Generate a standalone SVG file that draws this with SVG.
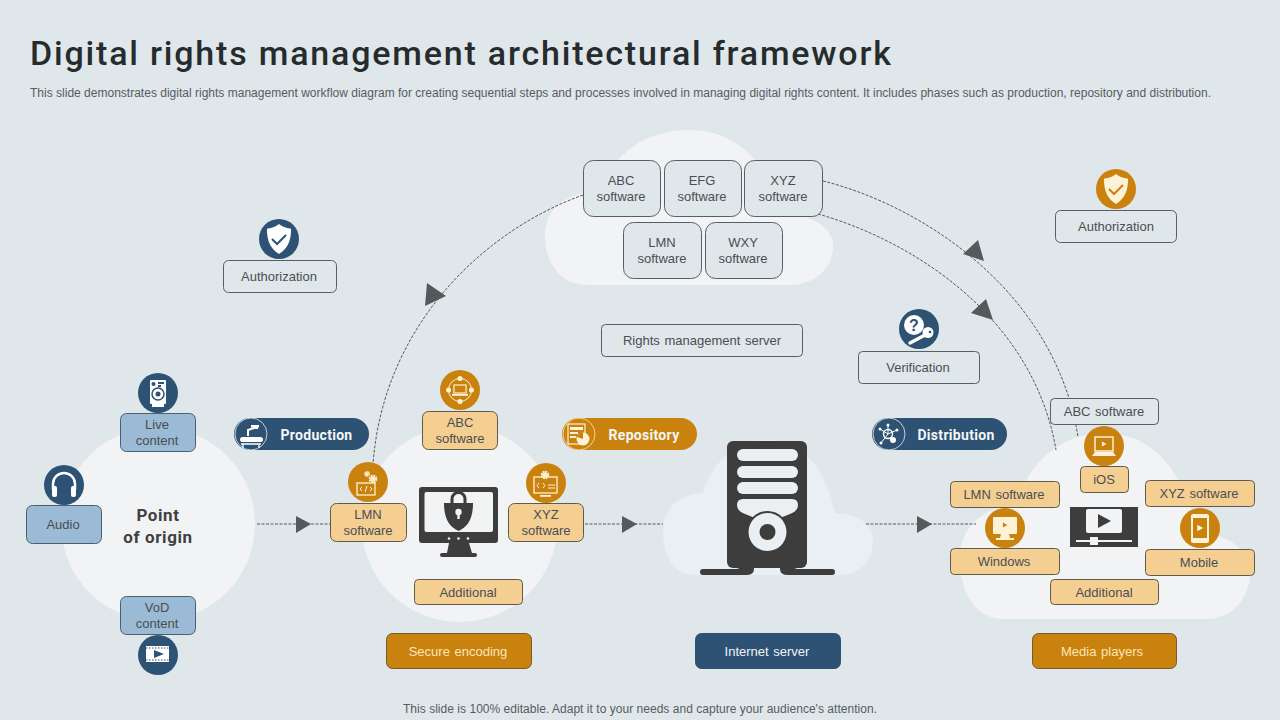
<svg xmlns="http://www.w3.org/2000/svg" width="1280" height="720" viewBox="0 0 1280 720">
<style>
text{font-family:"Liberation Sans",Arial,sans-serif;fill:#4a4e52;font-size:13px;text-anchor:middle;word-spacing:1px}
.blue{fill:#9bbad6;stroke:#4d5e6e;stroke-width:1}
.tan{fill:#f5cf92;stroke:#5f5a4e;stroke-width:1}
.plain{fill:#dfe7ea;stroke:#565f66;stroke-width:1}
.org{fill:#ca820e;stroke:#77592a;stroke-width:1}
.nav{fill:#2d5273;stroke:#2d5273;stroke-width:1}
.n{fill:#2d5273}
.o{fill:#ca820e}
.pill{font-family:Roboto,"Liberation Sans",sans-serif;font-weight:700;font-size:14px;fill:#f4f6f7;letter-spacing:.3px}
.big{font-family:Roboto,"Liberation Sans",sans-serif;font-weight:700;font-size:17px;fill:#404040;letter-spacing:.6px;word-spacing:0}
.cream{fill:#fbe6b8}
.w{fill:#fff}
.fc{fill:#fdf1d6}
.dash{fill:none;stroke:#55595c;stroke-width:1;stroke-dasharray:3 1.500}
.tri{fill:#55595c}
.dk{fill:#3d3d3d}
</style>
<defs>
<path id="cloud" d="M15 100C5 100 0 85 0 68C0 50 8 40 19 39C24 15 35 0 50 0C68 0 78 25 82 54C92 54 100 62 100 75C100 90 93 100 85 100Z"/>
<path id="shield" d="M0-13C4-10 8-9 10.500-9C10.500 1 8 8 0 13C-8 8-10.500 1-10.500-9C-8-9-4-10 0-13Z"/>
<path id="playtri" d="M-3-3.500L3.500 0L-3 3.500Z"/>
<g id="gear"><circle r="3.200" fill="none" stroke-width="2.200" stroke-dasharray="1.800 .7"/><circle r="2"/></g>
</defs>
<rect width="1280" height="720" fill="#dfe7ea"/>

<g id="title">
<text x="30" y="65" textLength="861" lengthAdjust="spacing" style="font-family:Roboto,'Liberation Sans',sans-serif;font-weight:500;font-size:34px;fill:#262b2e;text-anchor:start;word-spacing:0">Digital rights management architectural framework</text>
<text x="30" y="97" textLength="1181" lengthAdjust="spacing" style="font-size:12px;fill:#565c60;text-anchor:start;word-spacing:0">This slide demonstrates digital rights management workflow diagram for creating sequential steps and processes involved in managing digital rights content. It includes phases such as production, repository and distribution.</text>
<text x="640" y="713" textLength="474" lengthAdjust="spacing" style="font-size:12px;fill:#565c60;word-spacing:0">This slide is 100% editable. Adapt it to your needs and capture your audience's attention.</text>
</g>

<g id="clouds">
<circle cx="158" cy="524" r="97" fill="#f2f3f4"/>
<circle cx="459.500" cy="524" r="98" fill="#f2f3f4"/>
<use href="#cloud" transform="translate(545 130) scale(2.880 1.550)" fill="#f2f3f4"/>
<use href="#cloud" transform="translate(663 440) scale(2.100 1.350)" fill="#e9eff2"/>
<use href="#cloud" transform="translate(960 433) scale(2.900 1.860)" fill="#f2f3f4"/>
</g>

<g id="connectors">
<path class="dash" d="M257 524H330M585 524H663M866 524H976"/>
<polygon class="tri" points="296,516 311,524 296,533"/>
<polygon class="tri" points="622,516 637,524 622,533"/>
<polygon class="tri" points="917,516 932,524 917,533"/>
<path class="dash" d="M583 195C490 228 384 320 373 464"/>
<polygon class="tri" points="427,283 446,296 425,306"/>
<path class="dash" d="M823 181C920 205 1055 290 1078 437"/>
<polygon class="tri" points="978,240 963,254 984,261"/>
<path class="dash" d="M818 214C910 240 1033 315 1056 450"/>
<polygon class="tri" points="986,299 971,313 993,320"/>
</g>

<g id="point-of-origin"><text class="big" x="158" y="521">Point</text><text class="big" x="158" y="543">of origin</text></g>

<g id="live-content">
<rect class="blue" x="120.500" y="413.500" width="75" height="38" rx="6"/>
<text x="157" y="429">Live</text><text x="157" y="445">content</text>
<circle class="n" cx="158" cy="393" r="20"/>
<rect class="w" x="150" y="380" width="16" height="24" rx="1"/><rect class="w" x="152" y="404" width="12" height="3"/>
<circle cx="158" cy="394" r="6" fill="none" stroke="#2d5273" stroke-width="1.500"/><circle class="n" cx="158" cy="394" r="2.500"/>
<circle cx="153.500" cy="384" r="2" class="n"/><rect class="n" x="158" y="382" width="6" height="2"/><rect class="n" x="158" y="385" width="3" height="2"/>
</g>
<g id="audio">
<rect class="blue" x="26.500" y="505.500" width="75" height="38" rx="6"/>
<text x="63" y="529">Audio</text>
<circle class="n" cx="64" cy="485" r="20"/>
<path d="M53 490V484A11 11 0 0 1 75 484V490" fill="none" stroke="#fff" stroke-width="2.500"/>
<rect class="w" x="52" y="486" width="5" height="11" rx="2"/><rect class="w" x="71" y="486" width="5" height="11" rx="2"/>
</g>
<g id="vod-content">
<rect class="blue" x="120.500" y="596.500" width="75" height="38" rx="6"/>
<text x="157" y="612">VoD</text><text x="157" y="628">content</text>
<circle class="n" cx="158" cy="655" r="20"/>
<rect class="w" x="146" y="646" width="23" height="16"/>
<path d="M146 648H169M146 660H169" stroke="#2d5273" stroke-width="1.200" stroke-dasharray="1.500 1.500"/>
<path class="n" d="M154 650L164 654L154 658Z"/>
</g>

<g id="production">
<rect class="n" x="234" y="418" width="135" height="32" rx="16"/>
<circle class="n" cx="251" cy="434" r="16" stroke="#e8eef2" stroke-width=".8"/>
<text class="pill" x="316.500" y="440">Production</text>
<rect class="w" x="240" y="437" width="23" height="5" rx="2.500"/>
<path d="M243 444V448M259 444V448M241 444H261" stroke="#fff" stroke-width="1.300"/>
<path d="M248 436V430L254 428H258" fill="none" stroke="#fff" stroke-width="2"/>
<rect class="w" x="251" y="425" width="8" height="2.500"/>
</g>
<g id="lmn-software-1">
<rect class="tan" x="330.500" y="503.500" width="76" height="38" rx="6"/>
<text x="368" y="519">LMN</text><text x="368" y="535">software</text>
<circle class="o" cx="368" cy="482" r="20"/>
<rect x="357" y="483" width="18" height="12" fill="none" stroke="#fdf1d6" stroke-width="1.300"/>
<path d="M362 487L360 489L362 491M370 487L372 489L370 491M367 486L365 492" fill="none" stroke="#fdf1d6" stroke-width="1"/>
<use href="#gear" transform="translate(373 479)" fill="#fdf1d6" stroke="#fdf1d6"/>
<use href="#gear" transform="translate(367 474) scale(.7)" fill="#fdf1d6" stroke="#fdf1d6"/>
</g>
<g id="abc-software-1">
<rect class="tan" x="422.500" y="411.500" width="75" height="38" rx="6"/>
<text x="460" y="427">ABC</text><text x="460" y="443">software</text>
<circle class="o" cx="460" cy="390" r="20"/>
<circle cx="460" cy="390" r="11.500" fill="none" stroke="#fdf1d6" stroke-width="1"/>
<rect x="454" y="385" width="12" height="8" fill="#ca820e" stroke="#fdf1d6" stroke-width="1.200"/><rect class="fc" x="452" y="394" width="16" height="1.800"/>
<circle class="fc" cx="460" cy="378.500" r="2.500"/><circle class="fc" cx="460" cy="401.500" r="2.500"/><circle class="fc" cx="448.500" cy="390" r="2.500"/><circle class="fc" cx="471.500" cy="390" r="2.500"/>
</g>
<g id="xyz-software-1">
<rect class="tan" x="508.500" y="503.500" width="75" height="38" rx="6"/>
<text x="546" y="519">XYZ</text><text x="546" y="535">software</text>
<circle class="o" cx="546" cy="483" r="20"/>
<rect x="534" y="477" width="23" height="16" fill="none" stroke="#fdf1d6" stroke-width="1.300"/><rect class="fc" x="540" y="495" width="11" height="1.800"/>
<use href="#gear" transform="translate(545 475)" fill="#fdf1d6" stroke="#fdf1d6"/>
<path d="M539 483L537 485.500L539 488M543 483L545 485.500L543 488M548 485H555M548 488H555" fill="none" stroke="#fdf1d6" stroke-width="1"/>
</g>
<g id="additional-1"><rect class="tan" x="414.500" y="579.500" width="108" height="25" rx="4"/><text x="468" y="597">Additional</text></g>
<g id="secure-encoding"><rect class="org" x="386.500" y="633.500" width="145" height="35" rx="6"/><text class="cream" x="458" y="656">Secure encoding</text></g>
<g id="lock-monitor">
<rect class="dk" x="419" y="487" width="79" height="56" rx="3"/>
<rect x="424.500" y="492" width="68.500" height="40" rx="2" fill="#f2f3f4"/>
<circle cx="449" cy="538.500" r="1.300" fill="#f2f3f4"/><circle cx="458.500" cy="538.500" r="1.300" fill="#f2f3f4"/><circle cx="468" cy="538.500" r="1.300" fill="#f2f3f4"/>
<path class="dk" d="M449 543H469L472 553H447Z"/><rect class="dk" x="440" y="553" width="37" height="4" rx="2"/>
<path d="M452 503V499A6.500 6.500 0 0 1 465 499V503" fill="none" stroke="#3d3d3d" stroke-width="3"/>
<path class="dk" d="M458.500 531C450 527 444 520 444 503H473C473 520 467 527 458.500 531Z"/>
<circle cx="458.500" cy="512" r="3.200" fill="#f2f3f4"/><rect x="457.300" y="512" width="2.400" height="7" fill="#f2f3f4"/>
</g>

<g id="repository">
<rect class="o" x="562" y="418" width="135" height="32" rx="16"/>
<circle class="o" cx="579" cy="434" r="16" stroke="#fbe6b8" stroke-width=".8"/>
<text class="pill" x="644" y="440">Repository</text>
<rect x="568" y="424" width="17" height="20" fill="none" stroke="#fdf1d6" stroke-width="1.200"/>
<rect class="fc" x="570" y="427" width="13" height="3"/><rect class="fc" x="570" y="432" width="8" height="2"/><rect class="fc" x="570" y="436" width="6" height="2"/>
<circle cx="583" cy="439" r="6.500" fill="#fdf1d6"/><path d="M583 439V432.500A6.500 6.500 0 0 0 577 437Z" fill="#ca820e"/>
</g>
<g id="internet-server">
<rect class="nav" x="695.500" y="633.500" width="145" height="35" rx="6"/><text x="767" y="656" style="fill:#f1f4f6">Internet server</text>
</g>
<g id="server-icon">
<rect class="dk" x="727" y="441" width="80" height="127" rx="6"/>
<path class="dk" d="M700 572a3 3 0 0 1 3-3H736Q742 569 742 562H754V569Q754 575 746 575H703a3 3 0 0 1-3-3ZM835 572a3 3 0 0 0-3-3H798Q792 569 792 562H780V569Q780 575 788 575H832a3 3 0 0 0 3-3Z"/>
<rect x="737" y="449" width="61" height="12" rx="6" fill="#e9eff2"/>
<rect x="737" y="466" width="61" height="12" rx="6" fill="#e9eff2"/>
<rect x="737" y="482" width="61" height="12" rx="6" fill="#e9eff2"/>
<path d="M743 499H792Q798 499 798 505Q798 511 790 514L775 520H760L745 514Q737 511 737 505Q737 499 743 499Z" fill="#e9eff2"/>
<circle class="dk" cx="767.500" cy="532" r="21"/>
<circle cx="767.500" cy="532" r="19" fill="#e9eff2"/>
<circle class="dk" cx="767.500" cy="532" r="8"/>
</g>

<g id="distribution">
<rect class="n" x="872" y="418" width="135" height="32" rx="16"/>
<circle class="n" cx="889" cy="434" r="16" stroke="#e8eef2" stroke-width=".8"/>
<text class="pill" x="956" y="440">Distribution</text>
<circle cx="888" cy="434" r="4.500" fill="none" stroke="#fff" stroke-width="1.500"/><circle class="w" cx="893" cy="440" r="3"/>
<path d="M888 434L888 425M888 434L880 429M888 434L897 430M888 434L881 443" stroke="#fff" stroke-width="1"/>
<circle class="w" cx="888" cy="425" r="1.500"/><circle class="w" cx="880" cy="429" r="1.500"/><circle class="w" cx="897" cy="430" r="1.500"/><circle class="w" cx="881" cy="443" r="1.500"/>
</g>
<g id="abc-software-2"><rect class="plain" x="1050.500" y="398.500" width="108" height="26" rx="4"/><text x="1104" y="416">ABC software</text></g>
<g id="ios">
<rect class="tan" x="1080.500" y="466.500" width="48" height="26" rx="4"/><text x="1104" y="484">iOS</text>
<circle class="o" cx="1104" cy="446" r="20"/>
<rect x="1095" y="437" width="18" height="14" fill="none" stroke="#fdf1d6" stroke-width="1.500"/><path class="fc" d="M1095 452H1113L1116 456H1092Z"/>
<use href="#playtri" class="fc" transform="translate(1104 444) scale(.7)"/>
</g>
<g id="lmn-software-2"><rect class="tan" x="950.500" y="481.500" width="109" height="26" rx="4"/><text x="1004" y="499">LMN software</text></g>
<g id="windows">
<rect class="tan" x="950.500" y="548.500" width="109" height="26" rx="4"/><text x="1004" y="566">Windows</text>
<circle class="o" cx="1005" cy="528" r="20"/>
<rect class="fc" x="993" y="517" width="24" height="17" rx="1"/><path class="fc" d="M1001 534H1009L1010 538H1014V540H996V538H1000Z"/>
<use href="#playtri" class="o" transform="translate(1005 525) scale(.7)"/>
</g>
<g id="xyz-software-2"><rect class="tan" x="1145.500" y="480.500" width="109" height="26" rx="4"/><text x="1199" y="498">XYZ software</text></g>
<g id="mobile">
<rect class="tan" x="1145.500" y="549.500" width="109" height="26" rx="4"/><text x="1199" y="567">Mobile</text>
<circle class="o" cx="1200" cy="528" r="20"/>
<rect class="fc" x="1191" y="514" width="18" height="29" rx="2"/><rect class="o" x="1193" y="518" width="14" height="20"/>
<use href="#playtri" class="fc" transform="translate(1200 528) scale(.9)"/>
</g>
<g id="additional-2"><rect class="tan" x="1050.500" y="579.500" width="108" height="25" rx="4"/><text x="1104" y="597">Additional</text></g>
<g id="media-players"><rect class="org" x="1032.500" y="633.500" width="144" height="35" rx="6"/><text class="cream" x="1102" y="656">Media players</text></g>
<g id="video-icon">
<rect class="dk" x="1070" y="507" width="68" height="40"/>
<rect x="1086" y="509" width="36" height="24" rx="2" fill="#f2f3f4"/>
<path class="dk" d="M1098 514L1111 521L1098 528Z"/>
<rect x="1076" y="540" width="56" height="2" fill="#f2f3f4"/><rect x="1090" y="537" width="8" height="8" fill="#f2f3f4"/>
</g>

<g id="software-abc"><rect class="plain" x="583.500" y="160.500" width="77" height="56" rx="10"/><text x="621" y="185">ABC</text><text x="621" y="201">software</text></g>
<g id="software-efg"><rect class="plain" x="664.500" y="160.500" width="77" height="56" rx="10"/><text x="702" y="185">EFG</text><text x="702" y="201">software</text></g>
<g id="software-xyz"><rect class="plain" x="744.500" y="160.500" width="78" height="56" rx="10"/><text x="783" y="185">XYZ</text><text x="783" y="201">software</text></g>
<g id="software-lmn"><rect class="plain" x="623.500" y="222.500" width="78" height="56" rx="10"/><text x="662" y="247">LMN</text><text x="662" y="263">software</text></g>
<g id="software-wxy"><rect class="plain" x="705.500" y="222.500" width="77" height="56" rx="10"/><text x="743" y="247">WXY</text><text x="743" y="263">software</text></g>
<g id="rights-server"><rect class="plain" x="601.500" y="324.500" width="201" height="32" rx="4"/><text x="702" y="345">Rights management server</text></g>

<g id="verification">
<rect class="plain" x="858.500" y="351.500" width="121" height="32" rx="4"/><text x="918" y="372">Verification</text>
<circle class="n" cx="919" cy="329" r="20"/>
<circle class="w" cx="914" cy="325" r="10"/>
<text x="914" y="331" style="font-size:16px;font-weight:700;fill:#2d5273">?</text>
<path d="M910 343L925 335" stroke="#fff" stroke-width="3.500" stroke-linecap="round"/><circle class="w" cx="928" cy="332.500" r="5.500"/><circle class="n" cx="930" cy="332" r="1.300"/>
</g>
<g id="authorization-right">
<rect class="plain" x="1055.500" y="210.500" width="121" height="32" rx="5"/><text x="1116" y="231">Authorization</text>
<circle class="o" cx="1116" cy="189" r="20"/>
<use href="#shield" class="fc" transform="translate(1116 189) scale(1.150)"/>
<path d="M1109 189L1114 194L1123 185" fill="none" stroke="#ca820e" stroke-width="2"/>
</g>
<g id="authorization-left">
<rect class="plain" x="223.500" y="260.500" width="113" height="32" rx="5"/><text x="279" y="281">Authorization</text>
<circle class="n" cx="279" cy="239" r="20"/>
<use href="#shield" class="w" transform="translate(279 239) scale(1.150)"/>
<path d="M272 239L277 244L286 235" fill="none" stroke="#2d5273" stroke-width="2"/>
</g>
</svg>
